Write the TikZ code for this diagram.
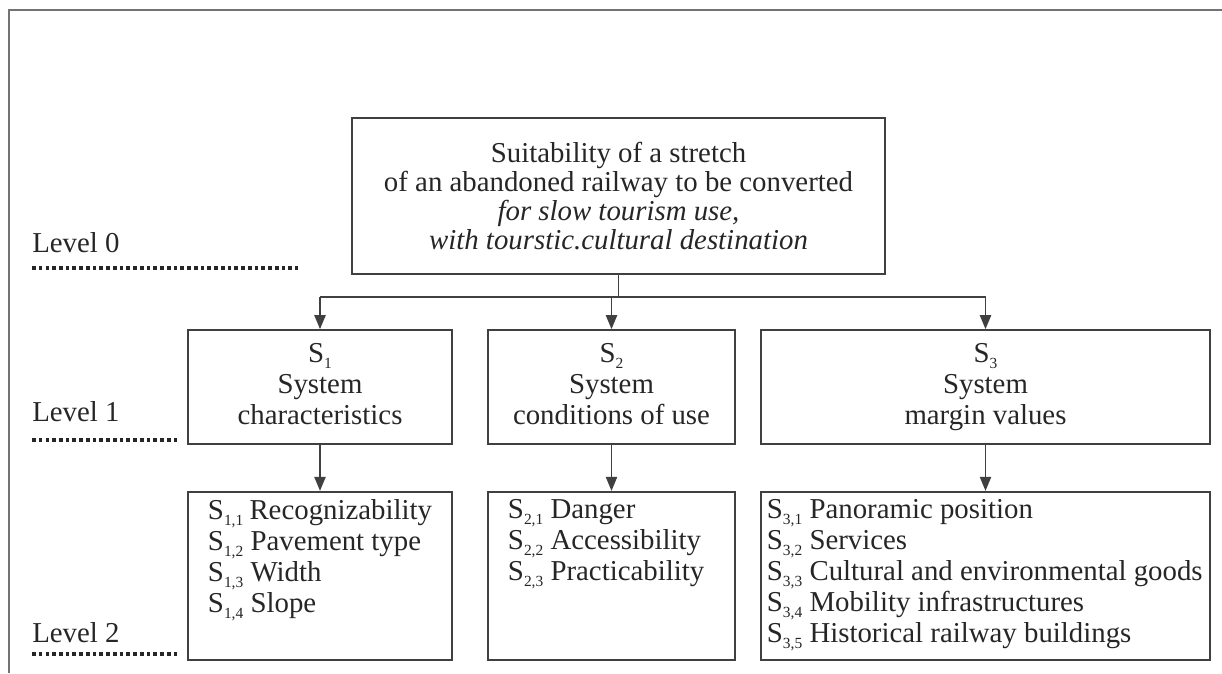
\documentclass[tikz,border=0pt]{standalone}
\usepackage{fontspec}
\setmainfont{Liberation Serif}
\usetikzlibrary{arrows.meta,positioning}

\newcommand{\sidx}[1]{\raisebox{-0.2em}{\fontsize{11}{11}\selectfont #1}}
\newcommand{\sublist}[2]{\begin{minipage}[c][3.8cm][t]{#1}#2\end{minipage}}

\begin{document}
\begin{tikzpicture}[
    x=0.025cm, y=-0.025cm,
    node distance=1.15cm,
    every node/.style={text=black!85, font=\fontsize{20.5}{22}\selectfont},
    box/.style={draw=black!75, line width=1.2pt, align=center},
    goal/.style={box, minimum width=13.325cm, minimum height=3.9cm, font=\fontsize{20.5}{20.5}\selectfont},
    crit/.style={box, minimum height=2.85cm},
    sub/.style={box, inner xsep=0.5cm, inner ysep=0.2cm, align=left},
    line/.style={line width=1.2pt, draw=black!75},
    arrow/.style={line, -{Triangle[length=10pt,width=8pt]}},
    lvl/.style={anchor=west, inner sep=0pt},
    lvlline/.style={line width=2.8pt, dash pattern=on 2.6pt off 2.2pt, draw=black!85}
  ]
  \useasboundingbox (0,0) rectangle (1222,673);

  % Frame
  \draw[line width=1pt, draw=black!55] (9,673) -- (9,10) -- (1222,10);

  % Level 0
  \node[goal] (goal) at (618.5,196) {Suitability of a stretch\\
    of an abandoned railway to be converted\\
    \textit{for slow tourism use,}\\
    \textit{with tourstic.cultural destination}};

  % Level 1
  \node[crit, minimum width=6.6cm] (s1) at (320,387) {S\sidx{1}\strut\\System\\characteristics\strut};
  \node[crit, minimum width=6.175cm] (s2) at (611.5,387) {S\sidx{2}\strut\\System\\conditions of use\strut};
  \node[crit, minimum width=11.225cm] (s3) at (985.5,387) {S\sidx{3}\strut\\System\\margin values\strut};

  % Level 2
  \node[sub, below=of s1] (s1list) {\sublist{5.6cm}{%
    S\sidx{1,1} Recognizability\\
    S\sidx{1,2} Pavement type\\
    S\sidx{1,3} Width\\
    S\sidx{1,4} Slope}};
  \node[sub, below=of s2] (s2list) {\sublist{5.175cm}{%
    S\sidx{2,1} Danger\\
    S\sidx{2,2} Accessibility\\
    S\sidx{2,3} Practicability}};
  \node[sub, inner xsep=0.15cm, below=of s3] (s3list) {\sublist{10.925cm}{%
    S\sidx{3,1} Panoramic position\\
    S\sidx{3,2} Services\\
    S\sidx{3,3} Cultural and environmental goods\\
    S\sidx{3,4} Mobility infrastructures\\
    S\sidx{3,5} Historical railway buildings}};

  % Level labels
  \node[lvl] (lv0) at (32,243) {Level 0};
  \node[lvl] (lv1) at (32,412) {Level 1};
  \node[lvl] (lv2) at (32,633) {Level 2};
  \draw[lvlline] (32,268) -- (298,268);
  \draw[lvlline] (32,440) -- (178,440);
  \draw[lvlline] (32,654) -- (180,654);

  % Connections
  \path (goal.south) ++(0,22) coordinate (split);
  \draw[line] (goal.south) -- (split);
  \draw[line] (s1.north |- split) -- (s3.north |- split);
  \foreach \n in {s1,s2,s3}
    \draw[arrow] (\n.north |- split) -- (\n.north);
  \draw[arrow] (s1) -- (s1list);
  \draw[arrow] (s2) -- (s2list);
  \draw[arrow] (s3) -- (s3list);
\end{tikzpicture}
\end{document}
